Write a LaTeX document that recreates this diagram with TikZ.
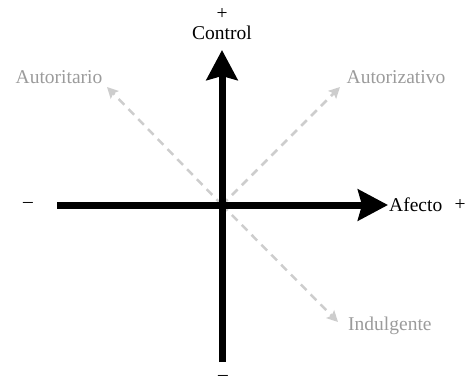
\documentclass[tikz,border=0pt]{standalone}
\usepackage{fontspec}
\setmainfont{Liberation Serif}
\usetikzlibrary{arrows.meta}
\definecolor{lblgray}{RGB}{155,155,155}
\definecolor{dashgray}{RGB}{205,205,205}
\begin{document}
\begin{tikzpicture}[x=1pt,y=-1pt,
  axis/.style={line width=7pt,black,-{Stealth[length=30pt,width=31pt,inset=4pt]}},
  diag/.style={line width=2.5pt,dashgray,dash pattern=on 8pt off 6pt,-{Stealth[length=11pt,width=11pt,inset=2pt]}},
  lbl/.style={font=\fontsize{19.5}{22}\selectfont,inner sep=0pt},
  glbl/.style={lbl,text=lblgray}]
\useasboundingbox (0,0) rectangle (465,385);
\coordinate (O) at (222,205);
\coordinate (L) at (57,205);
\coordinate (R) at (388,205);
\coordinate (T) at (222,50);
\coordinate (B) at (222,362);
\coordinate (NW) at (107,87);
\coordinate (NE) at (340,87);
\coordinate (SE) at (338,322);
% diagonal dashed arrows
\draw[diag] (O) -- (NW);
\draw[diag] (O) -- (NE);
\draw[diag] (O) -- (SE);
% axes
\draw[axis] (L) -- (R);
\draw[axis,line cap=butt] (B) -- (T);
% labels
\node[lbl] (plustop) at (222,14) {+};
\node[lbl] (control) at (222,33) {Control};
\node[lbl,anchor=west] (afecto) at (389,205) {Afecto};
\node[lbl] (plusright) at (460,205) {+};
\node[lbl] (minusleft) at (28,205) {–};
\node[lbl,anchor=base] (minusbottom) at (223,380) {–};
\node[glbl] (autoritario) at (59,77) {Autoritario};
\node[glbl] (autorizativo) at (396,77) {Autorizativo};
\node[glbl,anchor=west] (indulgente) at (348,326) {Indulgente};
\end{tikzpicture}
\end{document}
